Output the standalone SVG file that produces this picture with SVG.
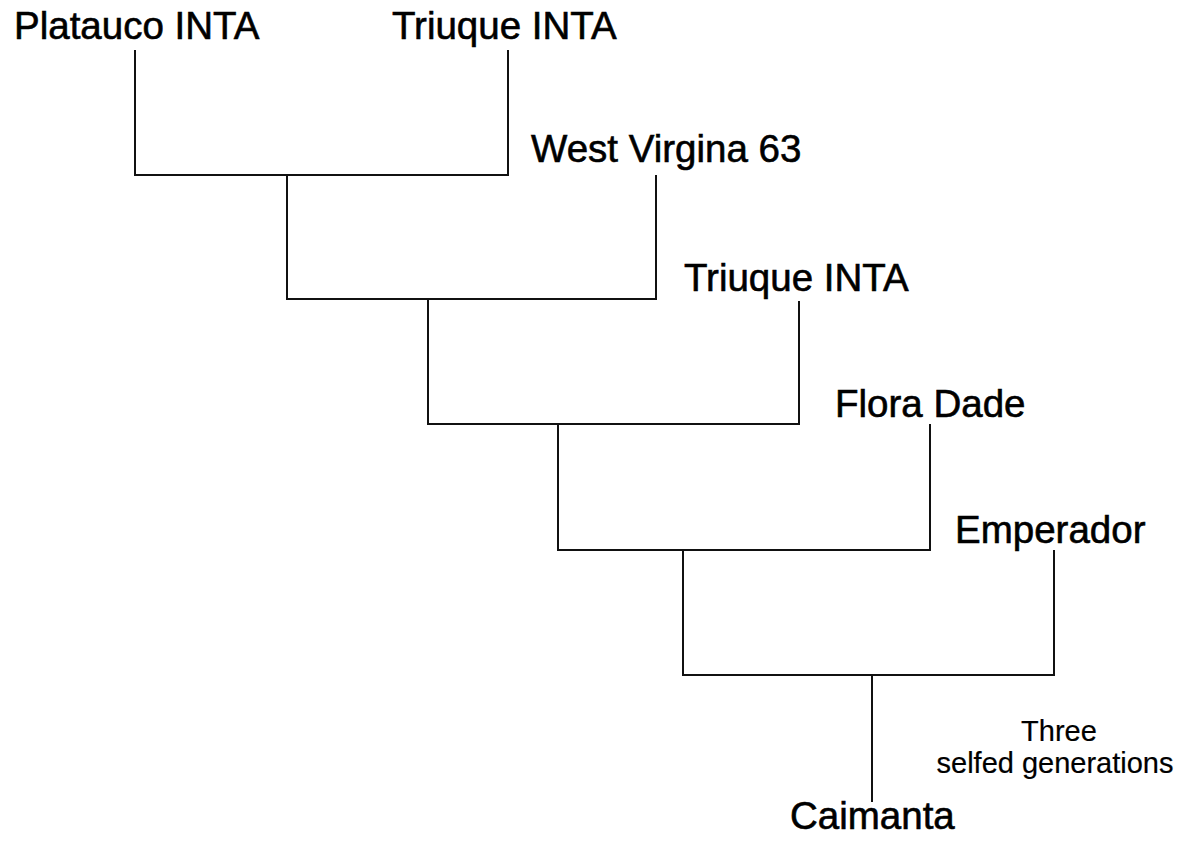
<svg xmlns="http://www.w3.org/2000/svg" width="1190" height="841" viewBox="0 0 1190 841">
  <style>
    .lbl { font-family: "Liberation Sans", Arial, sans-serif; font-size: 38.5px; fill: #000; stroke: #000; stroke-width: 0.6; }
    .note { font-family: "Liberation Sans", Arial, sans-serif; font-size: 29px; fill: #000; stroke: #000; stroke-width: 0.2; text-anchor: middle; }
    .ln { fill: none; stroke: #111; stroke-width: 2; stroke-linecap: square; stroke-linejoin: miter; }
  </style>
  <rect width="1190" height="841" fill="#fff"/>
  <g id="connectors">
    <path class="ln" d="M135,51 V175 H508 V51"/>
    <path class="ln" d="M287,175 V299"/>
    <path class="ln" d="M656,176 V299 H287"/>
    <path class="ln" d="M428,299 V424"/>
    <path class="ln" d="M799,302 V424 H428"/>
    <path class="ln" d="M558,424 V550"/>
    <path class="ln" d="M930,425 V550 H558"/>
    <path class="ln" d="M683,550 V675"/>
    <path class="ln" d="M1054,551 V675 H683"/>
    <path class="ln" d="M872,675 V801"/>
  </g>
  <g id="node-platauco"><text class="lbl" x="14" y="39">Platauco INTA</text></g>
  <g id="node-triuque1"><text class="lbl" x="392" y="39">Triuque INTA</text></g>
  <g id="node-westvirgina"><text class="lbl" x="531" y="162">West Virgina 63</text></g>
  <g id="node-triuque2"><text class="lbl" x="684" y="291">Triuque INTA</text></g>
  <g id="node-floradade"><text class="lbl" x="835" y="417">Flora Dade</text></g>
  <g id="node-emperador"><text class="lbl" x="955" y="543">Emperador</text></g>
  <g id="node-caimanta"><text class="lbl" x="790" y="829">Caimanta</text></g>
  <g id="note-selfed">
    <text class="note" x="1059" y="741">Three</text>
    <text class="note" x="1055" y="773">selfed generations</text>
  </g>
</svg>
